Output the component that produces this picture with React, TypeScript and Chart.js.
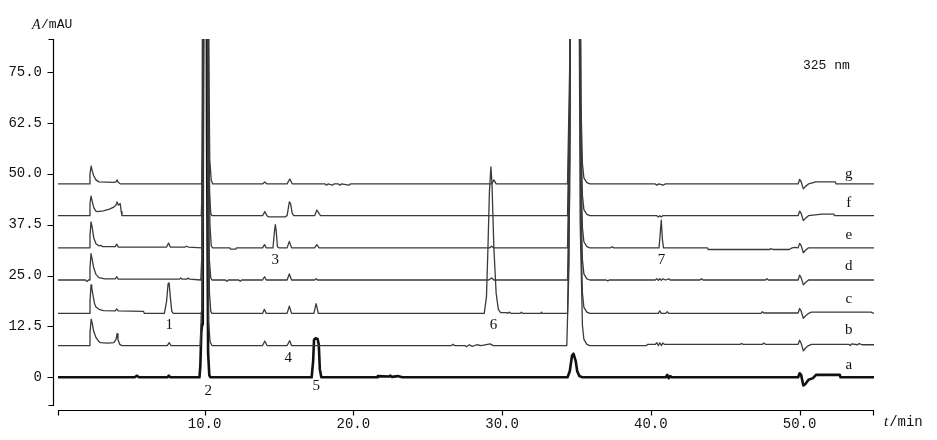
import React, { useEffect, useRef } from "react";
import { Chart, registerables } from "chart.js";

Chart.register(...registerables);

// ---- axes ----
const xMin = 0.15;
const xMax = 55;
const yMin = -6.8;
const yMax = 83.1;
const xTicks = [10, 20, 30, 40, 50];
const xTickLabels = ["10.0", "20.0", "30.0", "40.0", "50.0"];
const yTicks = [0, 12.5, 25, 37.5, 50, 62.5, 75];
const yTickLabels = ["0", "12.5", "25.0", "37.5", "50.0", "62.5", "75.0"];

// ---- traces (t/min, A/mAU relative to own baseline) ----
const traceNames = ["a", "b", "c", "d", "e", "f", "g"];
const traceOffsets = [0, 7.8, 15.7, 23.9, 31.8, 39.7, 47.5];
const traceLabelT = 53.3;
const traceLabelY = [3.0, 11.6, 19.2, 27.3, 35.0, 42.8, 49.9];

const peakNumbers = ["1", "2", "3", "4", "5", "6", "7"];
const peakLabelT = [7.63, 10.25, 14.75, 15.63, 17.51, 29.42, 40.71];
const peakLabelY = [12.85, -3.4, 28.8, 4.7, -2.1, 12.85, 28.8];

const traceA: [number, number][] = [
  [0.15, 0], [5.3, 0], [5.45, 0.4], [5.6, 0], [7.5, 0], [7.6, 0.4], [7.7, 0],
  [9.66, 0], [9.72, 3], [9.78, 11], [9.84, 13], [9.88, 40], [9.95, 200], [10.07, 250],
  [10.17, 60], [10.24, 6], [10.32, 0.5], [10.4, 0],
  [17.2, 0], [17.3, 4], [17.36, 9.2], [17.45, 9.6], [17.6, 9.4], [17.68, 8], [17.75, 2], [17.85, 0],
  [21.6, 0], [21.65, 0.3], [22.4, 0.2], [22.5, 0.4], [22.6, 0.1], [23.0, 0.3], [23.1, 0.2], [23.3, 0],
  [34.4, 0], [34.55, 1.5], [34.7, 5.3], [34.8, 5.8], [34.95, 4], [35.05, 1.5], [35.2, 0.3], [35.4, 0],
  [41.0, 0], [41.1, 0.6], [41.2, -0.2], [41.3, 0.3], [41.4, 0],
  [49.9, 0], [50.0, 1.0], [50.1, 0.6], [50.25, -2.0], [50.4, -1.6], [50.6, -0.6], [50.9, -0.2],
  [51.1, 0.6], [52.7, 0.6], [52.75, 0], [55, 0],
];

const traceB: [number, number][] = [
  [0.15, 0], [2.25, 0], [2.3, 3], [2.38, 6.5], [2.45, 5.5], [2.55, 3.5], [2.7, 2.0], [2.85, 1.2],
  [3.0, 0.7], [3.5, 0.6], [3.9, 0.7], [4.05, 1.5], [4.12, 2.9], [4.18, 1.5], [4.3, 0.3], [4.45, 0],
  [7.5, 0], [7.62, 0.7], [7.75, 0],
  [9.72, 0], [9.78, 8], [9.84, 9], [9.9, 60], [10.0, 300], [10.12, 200], [10.2, 50], [10.27, 6],
  [10.37, 1.0], [10.5, 0],
  [13.9, 0], [14.05, 1.1], [14.2, 0], [15.55, 0], [15.72, 1.2], [15.85, 0],
  [26.6, 0], [26.7, 0.3], [26.8, 0], [27.5, 0], [27.6, -0.3], [27.8, 0.2], [28.0, -0.2], [28.3, 0.2],
  [28.6, 0], [29.2, 0.4], [29.4, 0],
  [34.35, 0], [34.5, 20], [34.7, 200], [34.9, 300], [35.1, 150], [35.25, 30], [35.4, 5], [35.5, 1.5],
  [35.7, 0.3], [35.9, 0],
  [39.7, 0], [39.8, 0.3], [40.3, 0.3], [40.4, 0.7], [40.5, 0], [40.6, 0.7], [40.7, 0], [40.8, 0.6],
  [40.9, 0.3], [46.0, 0.3], [46.1, 0.5], [46.2, 0.3], [47.5, 0.3], [47.6, 0.6], [47.7, 0.3],
  [49.9, 0.3], [50.0, 1.3], [50.1, 0.6], [50.25, -1.3], [50.4, -0.6], [50.6, 0], [50.8, 0.3],
  [53.3, 0.3], [53.4, 0], [53.5, 0.4], [53.9, 0.2], [54.0, 0.5], [54.2, 0.2], [55, 0.2],
];

const traceC: [number, number][] = [
  [0.15, 0], [2.25, 0], [2.3, 3], [2.37, 7.0], [2.42, 6.2], [2.5, 4.5], [2.6, 2.5], [2.7, 1.6],
  [2.9, 1.0], [3.2, 0.7], [4.0, 0.6], [4.1, 1.1], [4.2, 0.6], [5.9, 0.5], [5.95, 0],
  [7.3, 0], [7.45, 3], [7.55, 7.3], [7.62, 7.5], [7.7, 4], [7.8, 0.5], [7.9, 0],
  [9.8, 0], [9.86, 10], [9.94, 80], [10.05, 300], [10.16, 200], [10.24, 40], [10.33, 5], [10.42, 0.5],
  [10.5, 0],
  [13.9, 0], [14.02, 1.0], [14.15, 0], [15.55, 0], [15.7, 1.8], [15.85, 0], [17.35, 0], [17.5, 2.4],
  [17.65, 0],
  [28.8, 0], [28.95, 4], [29.05, 16], [29.15, 30], [29.25, 36], [29.32, 32], [29.45, 16], [29.6, 5],
  [29.75, 1], [29.9, 0.2], [30.3, 0.2], [30.35, 0], [30.5, 0.3], [30.6, 0], [31.2, 0], [31.3, 0.3],
  [31.4, 0], [32.6, 0], [32.65, 0.3], [32.7, 0],
  [34.4, 0], [34.55, 30], [34.75, 250], [34.95, 300], [35.15, 150], [35.3, 20], [35.4, 5],
  [35.5, 1.5], [35.7, 0.3], [35.9, 0],
  [40.5, 0], [40.6, 0.6], [40.7, 0], [41.0, 0], [41.1, 0.4], [41.2, 0], [47.4, 0], [47.5, 0.4],
  [47.6, 0.1], [49.9, 0.1], [50.0, 1.2], [50.1, 0.6], [50.25, -1.2], [50.4, -0.6], [50.6, 0],
  [50.8, 0.3], [54.8, 0.3], [55, 0],
];

const traceD: [number, number][] = [
  [0.15, 0], [2.0, 0], [2.1, -0.4], [2.2, 0], [2.25, 0], [2.3, 3], [2.37, 6.5], [2.45, 5],
  [2.55, 3], [2.7, 1.4], [2.9, 0.6], [3.3, 0.3], [4.0, 0.3], [4.1, 0.8], [4.2, 0.2], [8.3, 0.2],
  [8.4, 0.5], [8.5, 0.2], [8.8, 0.2], [8.9, 0.5], [9.0, 0.2],
  [9.75, 0], [9.82, 6], [9.9, 60], [10.02, 300], [10.13, 200], [10.22, 30], [10.32, 5], [10.42, 0.5],
  [10.5, 0],
  [11.4, 0], [11.5, -0.3], [11.6, 0], [12.3, 0], [12.4, -0.3], [12.5, 0],
  [13.9, 0], [14.03, 0.8], [14.15, 0], [15.55, 0], [15.7, 1.5], [15.85, 0], [17.4, 0], [17.5, 0.3],
  [17.6, 0], [29.1, 0], [29.3, 0.5], [29.45, 0],
  [34.4, 0], [34.55, 30], [34.75, 250], [34.95, 300], [35.15, 150], [35.3, 20], [35.4, 5],
  [35.5, 1.5], [35.7, 0.3], [35.9, 0],
  [37.0, 0], [37.1, -0.2], [37.2, 0], [40.3, 0], [40.4, 0.3], [40.5, -0.1], [40.6, 0.3],
  [40.7, -0.1], [40.8, 0.3], [41.0, 0], [41.2, 0.3], [41.3, 0], [43.3, 0], [43.4, 0.3], [43.5, 0],
  [47.7, 0], [47.8, 0.3], [47.9, 0],
  [49.9, 0], [50.0, 1.2], [50.1, 0.6], [50.25, -1.2], [50.4, -0.6], [50.6, 0], [55, 0],
];

const traceE: [number, number][] = [
  [0.15, 0], [2.25, 0], [2.3, 3], [2.37, 6.4], [2.45, 5], [2.55, 2.5], [2.7, 1.0], [2.9, 0.5],
  [3.05, 0.6], [3.15, 0.3], [4.0, 0.3], [4.1, 0.9], [4.2, 0.2], [7.45, 0.2], [7.58, 1.2],
  [7.7, 0.2], [8.7, 0.2], [8.8, 0.4], [8.9, 0.2],
  [9.84, 0], [9.9, 8], [9.98, 80], [10.1, 300], [10.2, 200], [10.28, 40], [10.36, 6], [10.45, 0.5],
  [10.55, 0],
  [11.7, 0], [11.75, -0.3], [12.1, -0.3], [12.15, 0], [13.9, 0], [14.03, 0.8], [14.15, 0],
  [14.6, 0], [14.7, 4], [14.76, 5.7], [14.82, 4], [14.9, 0.3], [15.0, 0], [15.55, 0], [15.7, 1.6],
  [15.85, 0], [17.4, 0], [17.55, 0.8], [17.7, 0], [29.15, 0], [29.3, 0.4], [29.45, 0],
  [34.4, 0], [34.55, 30], [34.75, 250], [34.95, 300], [35.15, 150], [35.3, 20], [35.4, 5],
  [35.5, 1.5], [35.7, 0.3], [35.9, 0],
  [37.3, 0], [37.4, 0.3], [37.5, 0], [40.55, 0], [40.62, 3], [40.7, 6.8], [40.78, 2], [40.85, 0],
  [43.8, 0], [43.85, -0.4], [48.0, -0.4], [48.05, -0.2], [48.2, -0.4], [49.3, -0.4], [49.5, 0],
  [49.7, 0.1], [49.9, 0], [50.0, 1.1], [50.1, 0.6], [50.25, -1.2], [50.4, -0.6], [50.6, 0], [55, 0],
];

const traceF: [number, number][] = [
  [0.15, 0], [2.25, 0], [2.3, 3], [2.37, 4.8], [2.45, 3.5], [2.55, 2.0], [2.7, 1.1], [2.8, 1.0],
  [3.2, 1.2], [3.6, 1.6], [3.9, 2.1], [4.05, 2.6], [4.12, 3.4], [4.2, 2.6], [4.28, 2.8], [4.33, 3.0],
  [4.4, 1.0], [4.45, 0],
  [9.78, 0], [9.85, 8], [9.93, 80], [10.04, 300], [10.15, 200], [10.23, 40], [10.32, 6], [10.42, 0.5],
  [10.5, 0],
  [13.9, 0], [14.05, 1.0], [14.2, 0], [14.3, -0.3], [15.4, -0.3], [15.55, 0], [15.7, 3.4],
  [15.78, 3.0], [15.9, 0.5], [16.0, 0], [17.4, 0], [17.55, 1.4], [17.7, 0.5], [17.8, 0],
  [34.4, 0], [34.55, 30], [34.75, 250], [34.95, 300], [35.15, 150], [35.3, 20], [35.4, 5],
  [35.5, 1.5], [35.7, 0.3], [35.9, 0],
  [40.4, 0], [40.5, -0.3], [40.6, 0], [40.7, -0.3], [40.8, 0],
  [49.9, 0], [50.0, 1.1], [50.1, 0.6], [50.25, -1.2], [50.4, -0.6], [50.6, 0], [51.5, 0.4],
  [52.3, 0.4], [52.35, 0], [55, 0],
];

const traceG: [number, number][] = [
  [0.15, 0], [2.25, 0], [2.3, 2.5], [2.38, 4.4], [2.45, 3.2], [2.55, 2.0], [2.7, 1.0], [2.9, 0.5],
  [3.9, 0.4], [4.05, 0.5], [4.12, 1.0], [4.2, 0.4], [4.35, 0],
  [9.82, 0], [9.88, 8], [9.96, 80], [10.08, 300], [10.19, 200], [10.27, 40], [10.35, 6], [10.45, 1.0],
  [10.55, 0],
  [13.9, 0], [14.05, 0.5], [14.2, 0], [15.55, 0], [15.73, 1.2], [15.9, 0],
  [18.1, 0], [18.2, -0.3], [18.3, 0], [18.6, -0.3], [18.7, 0], [19.0, 0], [19.1, -0.3], [19.2, 0],
  [19.7, -0.3], [19.8, 0], [29.3, 0], [29.45, 1.0], [29.6, 0],
  [34.4, 0], [34.55, 30], [34.75, 250], [34.95, 300], [35.15, 150], [35.3, 20], [35.4, 5],
  [35.5, 1.5], [35.7, 0.3], [35.9, 0],
  [40.3, 0], [40.4, -0.3], [40.55, 0], [40.8, -0.3], [41.0, 0],
  [49.9, 0], [50.0, 1.1], [50.1, 0.6], [50.25, -1.2], [50.4, -0.6], [50.6, 0], [51.1, 0.5],
  [52.4, 0.5], [52.45, 0], [55, 0],
];

const traces = [traceA, traceB, traceC, traceD, traceE, traceF, traceG];

const MONO = "'Liberation Mono', 'DejaVu Sans Mono', monospace";
const SERIF = "'Liberation Serif', 'DejaVu Serif', serif";

const annotPlugin = {
  id: "chromAnnot",
  afterDraw(chart: any) {
    const { ctx, chartArea, scales } = chart;
    const xs = scales.x;
    const ys = scales.y;
    const left = chartArea.left;
    const right = chartArea.right;
    const top = chartArea.top;
    const bottom = chartArea.bottom;
    const yAxisX = Math.round(left - 5) + 0.5;
    const xAxisY = Math.round(bottom + 5) + 0.5;
    ctx.save();
    ctx.strokeStyle = "#000";
    ctx.lineWidth = 1.2;
    ctx.beginPath();
    // y axis with end ticks
    ctx.moveTo(yAxisX - 5, top + 0.5);
    ctx.lineTo(yAxisX, top + 0.5);
    ctx.lineTo(yAxisX, bottom + 0.5);
    ctx.lineTo(yAxisX - 5, bottom + 0.5);
    ys.ticks.forEach((t: any) => {
      const py = Math.round(ys.getPixelForValue(t.value)) + 0.5;
      ctx.moveTo(yAxisX - 6, py);
      ctx.lineTo(yAxisX, py);
    });
    // x axis with end ticks
    ctx.moveTo(left + 0.5, xAxisY + 5);
    ctx.lineTo(left + 0.5, xAxisY);
    ctx.lineTo(right - 0.5, xAxisY);
    ctx.lineTo(right - 0.5, xAxisY + 5);
    xs.ticks.forEach((t: any) => {
      const px = Math.round(xs.getPixelForValue(t.value)) + 0.5;
      ctx.moveTo(px, xAxisY);
      ctx.lineTo(px, xAxisY + 5);
    });
    ctx.stroke();

    ctx.fillStyle = "#111";
    // axis titles
    ctx.textBaseline = "middle";
    ctx.textAlign = "left";
    ctx.font = "italic 14px " + SERIF;
    const ax = left - 26;
    const ay = top - 14;
    ctx.fillText("A", ax, ay);
    const aw = ctx.measureText("A").width;
    ctx.font = "13px " + MONO;
    ctx.fillText("/mAU", ax + aw + 0.5, ay);

    ctx.font = "italic 15px " + SERIF;
    const tx = right + 10;
    const ty = xAxisY + 12;
    ctx.fillText("t", tx, ty);
    const tw = ctx.measureText("t").width;
    ctx.font = "14px " + MONO;
    ctx.fillText("/min", tx + tw + 1, ty);

    ctx.font = "13px " + MONO;
    ctx.fillText("325 nm", right - 71, top + 27);

    // trace letters
    ctx.font = "15px " + SERIF;
    ctx.textAlign = "center";
    traceNames.forEach((n, i) => {
      ctx.fillText(n, xs.getPixelForValue(traceLabelT), ys.getPixelForValue(traceLabelY[i]));
    });
    // peak numbers
    peakNumbers.forEach((n, i) => {
      ctx.fillText(n, xs.getPixelForValue(peakLabelT[i]), ys.getPixelForValue(peakLabelY[i]));
    });
    ctx.restore();
  },
};

export default function App() {
  const ref = useRef<HTMLCanvasElement | null>(null);
  useEffect(() => {
    if (!ref.current) return;
    const datasets = traces
      .map((tr, i) => ({
        label: traceNames[i],
        data: tr.map(([t, v]) => ({ x: t, y: v + traceOffsets[i] })),
        borderColor: i === 0 ? "#111" : "#3a3a3a",
        borderWidth: i === 0 ? 2.6 : 1.3,
        pointRadius: 0,
        tension: 0,
        fill: false,
        clip: 0,
        borderJoinStyle: "round" as const,
      }))
      .reverse();
    const chart = new Chart(ref.current, {
      type: "line",
      data: { datasets },
      options: {
        animation: false,
        responsive: false,
        devicePixelRatio: 1,
        layout: { padding: { left: 0, right: 63, top: 39, bottom: 0 } },
        plugins: { legend: { display: false }, tooltip: { enabled: false } },
        scales: {
          x: {
            type: "linear",
            min: xMin,
            max: xMax,
            grid: { display: false, drawTicks: false },
            border: { display: false },
            afterBuildTicks: (s: any) => {
              s.ticks = xTicks.map((v) => ({ value: v }));
            },
            afterFit: (s: any) => {
              s.height = 35;
            },
            ticks: {
              autoSkip: false,
              maxRotation: 0,
              padding: 11,
              color: "#111",
              font: { family: MONO, size: 14 },
              callback: (v: any) => xTickLabels[xTicks.indexOf(Number(v))] ?? "",
            },
          },
          y: {
            type: "linear",
            min: yMin,
            max: yMax,
            grid: { display: false, drawTicks: false },
            border: { display: false },
            afterBuildTicks: (s: any) => {
              s.ticks = yTicks.map((v) => ({ value: v }));
            },
            afterFit: (s: any) => {
              s.width = 58;
            },
            ticks: {
              autoSkip: false,
              padding: 16,
              color: "#111",
              font: { family: MONO, size: 14 },
              callback: (v: any) => yTickLabels[yTicks.indexOf(Number(v))] ?? "",
            },
          },
        },
      },
      plugins: [annotPlugin],
    });
    return () => chart.destroy();
  }, []);
  return (
    <div style={{ position: "fixed", left: 0, top: 0, width: 937, height: 440, background: "#fff" }}>
      <canvas ref={ref} width={937} height={440} style={{ display: "block" }} />
    </div>
  );
}
